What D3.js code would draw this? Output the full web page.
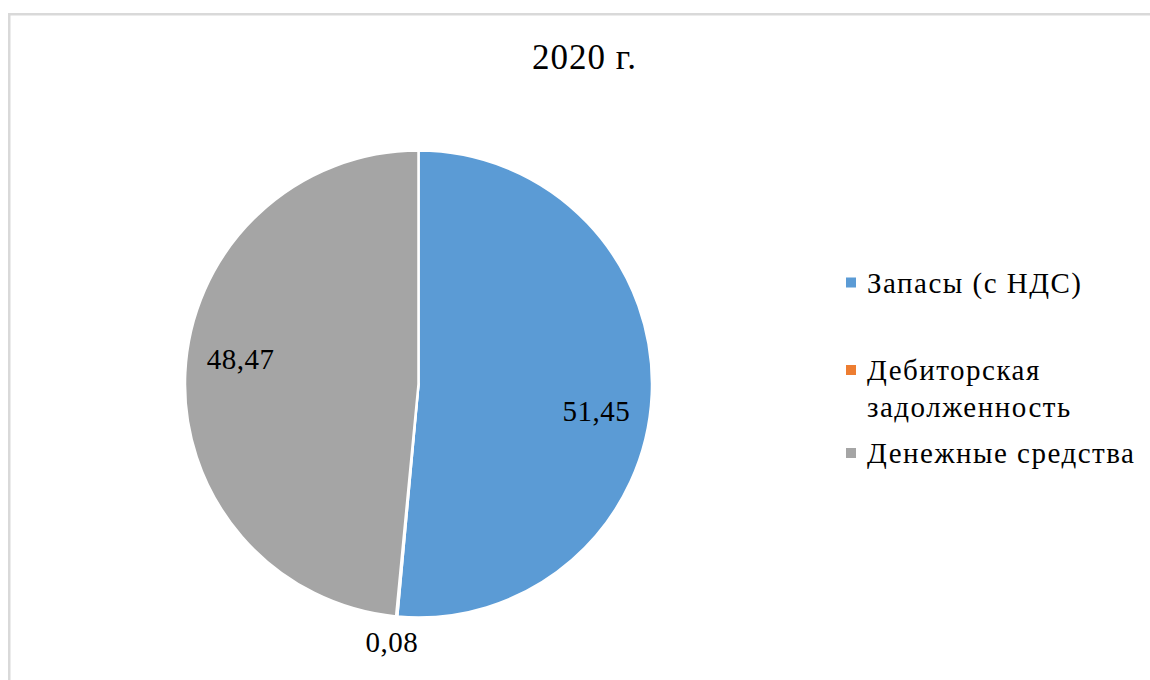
<!DOCTYPE html>
<html>
<head>
<meta charset="utf-8">
<script src="https://cdn.jsdelivr.net/npm/d3@7/dist/d3.min.js"></script>
<style>
html,body{margin:0;padding:0;background:#fff;}
svg{display:block;}
svg text{font-family:"Liberation Serif","Times New Roman","DejaVu Serif",serif;}
</style>
</head>
<body>
<svg id="chart" width="1150" height="680"></svg>
<script>
const title = "2020 г.";
const categories = ["Запасы (с НДС)", "Дебиторская задолженность", "Денежные средства"];
const legendLines = [["Запасы (с НДС)"], ["Дебиторская", "задолженность"], ["Денежные средства"]];
const values = [51.45, 0.08, 48.47];
const valueLabels = ["51,45", "0,08", "48,47"];
const colors = ["#5B9BD5", "#ED7D31", "#A5A5A5"];

const FONT = "'Liberation Serif', 'Times New Roman', 'DejaVu Serif', serif";
const svg = d3.select("#chart");

// frame
svg.append("rect")
  .attr("x", 9.25).attr("y", 14.25)
  .attr("width", 1160).attr("height", 700)
  .attr("fill", "none").attr("stroke", "#d9d9d9").attr("stroke-width", 2.5);

svg.append("text")
  .attr("x", 584.5).attr("y", 69)
  .attr("text-anchor", "middle")
  .attr("font-family", FONT)
  .attr("font-size", 35).attr("letter-spacing", 1).attr("fill", "#000")
  .text(title);

const cx = 418.5, cy = 384, r = 233.5;
const g = svg.append("g").attr("transform", `translate(${cx},${cy})`);

const pie = d3.pie().value(d => d).sort(null);
const arcs = pie(values);
const arc = d3.arc().innerRadius(0).outerRadius(r);

g.selectAll("path.slice").data(arcs).join("path")
  .attr("class", "slice")
  .attr("d", arc)
  .attr("fill", (d, i) => colors[i])
  .attr("stroke", "#fff").attr("stroke-width", 2.5)
  .attr("stroke-linejoin", "round");

// labels
const shift = 5.7 * Math.PI / 180;
g.selectAll("text.lbl").data(arcs).join("text")
  .attr("class", "lbl")
  .attr("text-anchor", "middle")
  .attr("dominant-baseline", "central")
  .attr("font-family", FONT)
  .attr("font-size", 29).attr("letter-spacing", 0.5).attr("fill", "#000")
  .each(function(d, i) {
    const mid = (d.startAngle + d.endAngle) / 2;
    const small = (d.endAngle - d.startAngle) < 0.05;
    const a = small ? mid + 0.01 : mid + shift;
    const rr = small ? r * 1.105 : r * 0.77;
    d3.select(this)
      .attr("x", Math.sin(a) * rr)
      .attr("y", -Math.cos(a) * rr + 1)
      .text(valueLabels[i]);
  });

// legend
const legendY = [282.5, 370, 453];
const lg = svg.append("g");
categories.forEach((c, i) => {
  lg.append("rect")
    .attr("x", 846).attr("y", legendY[i] - 5)
    .attr("width", 10).attr("height", 10)
    .attr("fill", colors[i]);
  const t = lg.append("text")
    .attr("x", 867).attr("y", legendY[i] + 10)
    .attr("font-family", FONT)
    .attr("font-size", 29).attr("letter-spacing", 1.5).attr("fill", "#000");
  legendLines[i].forEach((line, j) => {
    t.append("tspan").attr("x", 867).attr("dy", j === 0 ? 0 : 36.5).text(line);
  });
});
</script>
</body>
</html>
